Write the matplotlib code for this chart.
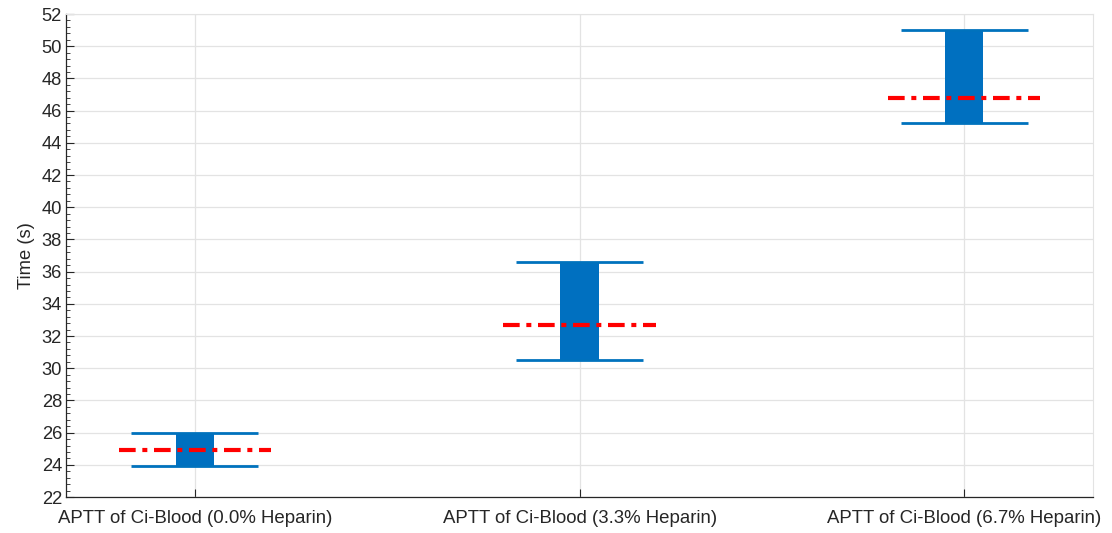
import numpy as np
import matplotlib.pyplot as plt
from matplotlib.ticker import MultipleLocator

plt.rcParams['font.family'] = ['Liberation Sans', 'DejaVu Sans']

categories = ["APTT of Ci-Blood (0.0% Heparin)",
              "APTT of Ci-Blood (3.3% Heparin)",
              "APTT of Ci-Blood (6.7% Heparin)"]
timeMin = [23.9, 30.5, 45.2]
timeMax = [26.0, 36.6, 51.0]
timeMean = [24.9, 32.7, 46.8]

blue = "#0072BD"
boxBlue = "#0070C0"
axisGrey = "#262626"


def main():
    fig = plt.figure(figsize=(11.12, 5.33), dpi=100)
    ax = fig.add_axes([0.0594, 0.0675, 0.9236, 0.9062])
    x = np.arange(1, len(categories) + 1)

    # range box, caps and mean line per group
    ax.bar(x, np.array(timeMax) - np.array(timeMin), bottom=timeMin, width=0.1,
           color=boxBlue, zorder=3)
    ax.hlines(timeMax, x - 0.165, x + 0.165, color=blue, lw=2, zorder=3)
    ax.hlines(timeMin, x - 0.165, x + 0.165, color=blue, lw=2, zorder=3)
    ax.hlines(timeMean, x - 0.198, x + 0.198, color="#FF0000", lw=3,
              linestyles=(0, (4, 1.6, 1.2, 1.6)), zorder=4)

    ax.set_xlim(0.665, 3.335)
    ax.set_ylim(22, 52)
    ax.set_xticks(x)
    ax.set_xticklabels(categories)
    ax.yaxis.set_major_locator(MultipleLocator(2))
    ax.yaxis.set_minor_locator(MultipleLocator(0.4))
    ax.set_ylabel("Time (s)", fontsize=13.2, color=axisGrey, labelpad=5)

    ax.tick_params(axis="both", which="both", direction="in", colors=axisGrey)
    ax.tick_params(axis="x", labelsize=13.4, pad=9)
    ax.tick_params(axis="y", labelsize=13.2, pad=3)
    ax.tick_params(axis="both", which="major", length=6)
    ax.tick_params(axis="y", which="minor", length=3)

    ax.grid(True, which="major", color="#e3e3e3", lw=0.9, zorder=0)
    ax.set_axisbelow(True)
    for side in ["top", "right"]:
        ax.spines[side].set_color("#e3e3e3")
    for side in ["left", "bottom"]:
        ax.spines[side].set_color(axisGrey)
        ax.spines[side].set_linewidth(0.9)

    fig.savefig("out.png", dpi=100)


if __name__ == "__main__":
    main()
